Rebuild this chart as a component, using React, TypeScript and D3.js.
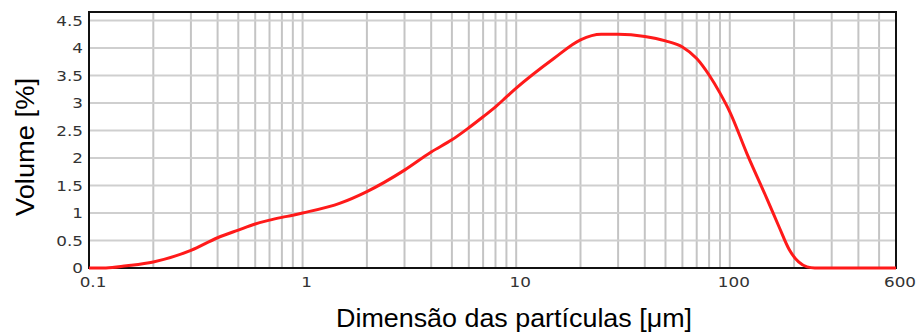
import React from "react";
import * as d3 from "d3";

const sizes = [0.1, 0.12, 0.15, 0.2, 0.3, 0.4, 0.5, 0.6, 0.7, 0.8, 0.9, 1, 1.5, 2, 3, 4, 5, 6, 7, 8, 9, 10, 15, 20, 25, 30, 40, 50, 60, 70, 80, 90, 100, 120, 150, 170, 190, 210, 230, 250, 600];
const volumes = [0, 0.0, 0.04, 0.11, 0.32, 0.55, 0.69, 0.8, 0.87, 0.92, 0.96, 1.0, 1.18, 1.39, 1.78, 2.11, 2.33, 2.55, 2.75, 2.93, 3.11, 3.27, 3.81, 4.15, 4.25, 4.25, 4.21, 4.13, 4.02, 3.81, 3.51, 3.18, 2.84, 2.09, 1.24, 0.75, 0.33, 0.11, 0.02, 0, 0];
const xTickValues = [0.1, 1, 10, 100, 600];
const xTickLabels = ["0.1", "1", "10", "100", "600"];
const yTickValues = [0, 0.5, 1, 1.5, 2, 2.5, 3, 3.5, 4, 4.5];
const yTickLabels = ["0", "0.5", "1", "1.5", "2", "2.5", "3", "3.5", "4", "4.5"];
const xGridValues = [0.2, 0.3, 0.4, 0.5, 0.6, 0.7, 0.8, 0.9, 1, 2, 3, 4, 5, 6, 7, 8, 9, 10, 20, 30, 40, 50, 60, 70, 80, 90, 100, 200, 300, 400, 500];

export default function App() {
  const W = 918, H = 334;
  const left = 89, right = 896, top = 12, bottom = 268;
  const x = d3.scaleLog().domain([0.1, 600]).range([left, right]);
  const y = d3.scaleLinear().domain([0, 4.655]).range([bottom, top]);
  const line = d3.line<number>().x((_, i) => x(sizes[i])).y((d) => y(d)).curve(d3.curveMonotoneX);
  const tickFont = "'DejaVu Sans', Verdana, sans-serif";
  const labelFont = "'Liberation Sans', Arial, sans-serif";
  const sx = 1.2;
  return (
    <svg width={W} height={H} style={{ position: "absolute", left: 0, top: 0, background: "#fff" }}>
      {xGridValues.map((v) => (
        <line key={"gx" + v} x1={x(v)} x2={x(v)} y1={top} y2={bottom} stroke="#c4c4c4" strokeWidth={2} />
      ))}
      {yTickValues.filter((v) => v > 0).map((v) => (
        <line key={"gy" + v} x1={left} x2={right} y1={y(v)} y2={y(v)} stroke="#cfcfcf" strokeWidth={2} />
      ))}
      <rect x={left} y={top} width={right - left} height={bottom - top} fill="none" stroke="#111" strokeWidth={2} />
      <path d={line(volumes) || ""} fill="none" stroke="#ff1a1a" strokeWidth={3} strokeLinejoin="round" />
      {yTickValues.map((v, i) => (
        <text key={"yt" + v} transform={`translate(${left - 6},${y(v)}) scale(${sx},1)`} dy="0.36em" textAnchor="end" fontSize={14} fontFamily={tickFont} fill="#333">
          {yTickLabels[i]}
        </text>
      ))}
      {xTickValues.map((v, i) => (
        <text key={"xt" + v} transform={`translate(${x(v) + 4},${bottom + 19}) scale(${sx},1)`} textAnchor="middle" fontSize={14} fontFamily={tickFont} fill="#333">
          {xTickLabels[i]}
        </text>
      ))}
      <text x={514} y={327} textAnchor="middle" fontSize={25} textLength={356} lengthAdjust="spacingAndGlyphs" fontFamily={labelFont} fill="#000">
        Dimensão das partículas [μm]
      </text>
      <text transform={`translate(34,147) rotate(-90)`} textAnchor="middle" fontSize={25} textLength={138} lengthAdjust="spacingAndGlyphs" fontFamily={labelFont} fill="#000">
        Volume [%]
      </text>
    </svg>
  );
}
